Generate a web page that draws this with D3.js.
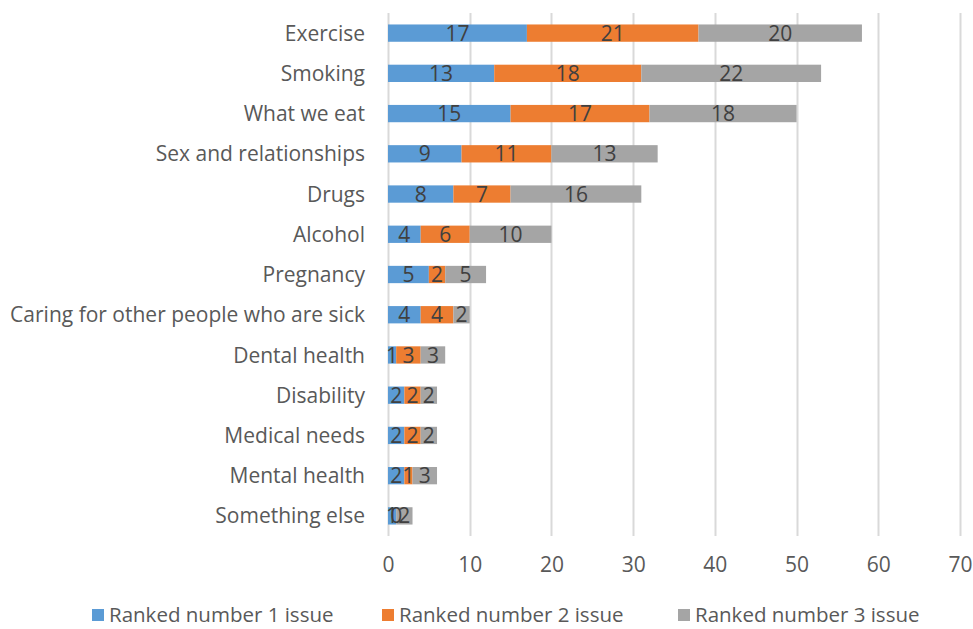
<!DOCTYPE html>
<html><head><meta charset="utf-8">
<script src="https://cdn.jsdelivr.net/npm/d3@7"></script>
<style>body{margin:0;background:#fff}svg{display:block}</style>
</head><body>
<svg id="c" width="973" height="629"></svg>
<script>
const categories = ["Exercise","Smoking","What we eat","Sex and relationships","Drugs","Alcohol","Pregnancy","Caring for other people who are sick","Dental health","Disability","Medical needs","Mental health","Something else"];
const rank1 = [17,13,15,9,8,4,5,4,1,2,2,2,1];
const rank2 = [21,18,17,11,7,6,2,4,3,2,2,1,0];
const rank3 = [20,22,18,13,16,10,5,2,3,2,2,3,2];
const seriesNames = ["Ranked number 1 issue","Ranked number 2 issue","Ranked number 3 issue"];
const colors = ["#5B9BD5","#ED7D31","#A5A5A5"];
const xTicks = [0,10,20,30,40,50,60,70];

const font = "'Open Sans', sans-serif";
const fs = 21;
const svg = d3.select("#c");
const x = d3.scaleLinear().domain([0,70]).range([388,960]);
const y = d3.scaleBand().domain(categories).range([13,536]).paddingInner(0.57).paddingOuter(0.285);

// gridlines
svg.append("g").selectAll("line").data(xTicks).join("line")
  .attr("x1",d=>Math.round(x(d))+0.5).attr("x2",d=>Math.round(x(d))+0.5)
  .attr("y1",13).attr("y2",536)
  .attr("stroke","#d9d9d9").attr("stroke-width",2);

const data = categories.map((c,i)=>({cat:c, v:[rank1[i],rank2[i],rank3[i]]}));
const stack = d3.stack().keys([0,1,2]).value((d,k)=>d.v[k]);
const stacked = stack(data);

const g = svg.append("g");
stacked.forEach((s,k)=>{
  g.append("g").selectAll("rect").data(s).join("rect")
    .attr("x",d=>x(d[0])).attr("width",d=>x(d[1])-x(d[0]))
    .attr("y",d=>y(d.data.cat)).attr("height",y.bandwidth())
    .attr("fill",colors[k]);
});
stacked.forEach((s,k)=>{
  g.append("g").selectAll("text").data(s).join("text")
    .attr("x",d=>(x(d[0])+x(d[1]))/2)
    .attr("y",d=>y(d.data.cat)+y.bandwidth()/2)
    .attr("dy","0.36em").attr("text-anchor","middle")
    .attr("font-family",font).attr("font-size",fs).attr("fill","#404040")
    .text(d=>d.data.v[k]);
});

// y axis labels
svg.append("g").selectAll("text").data(categories).join("text")
  .attr("x",365).attr("y",d=>y(d)+y.bandwidth()/2).attr("dy","0.36em")
  .attr("text-anchor","end").attr("font-family",font).attr("font-size",fs)
  .attr("fill","#595959").text(d=>d);

// x axis labels
const xAxis = d3.axisBottom(x).tickValues(xTicks).tickSize(0).tickPadding(0);
const ax = svg.append("g").attr("transform","translate(0,557)").call(xAxis);
ax.select(".domain").remove();
ax.selectAll("text").attr("font-family",font).attr("font-size",fs).attr("fill","#595959").attr("dy","0.71em");

// legend
const legX = [92,382,678];
const leg = svg.append("g").selectAll("g").data(seriesNames).join("g")
  .attr("transform",(d,i)=>`translate(${legX[i]},615)`);
leg.append("rect").attr("x",0).attr("y",-6).attr("width",12).attr("height",12).attr("fill",(d,i)=>colors[i]);
leg.append("text").attr("x",17).attr("dy","0.36em").attr("font-family",font).attr("font-size",20.5)
  .attr("fill","#595959").text(d=>d);
</script>
</body></html>
